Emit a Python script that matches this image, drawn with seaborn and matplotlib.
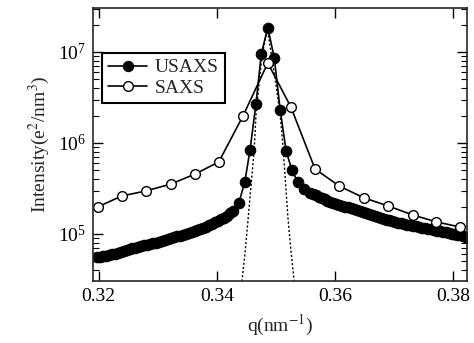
"""
USAXS vs SAXS peak profile, log intensity against q.
"""

import matplotlib
matplotlib.use("Agg")
import matplotlib.pyplot as plt
from matplotlib.lines import Line2D
import pandas as pd
import seaborn as sns

# USAXS scan (filled circles), dense in the tails
q_usaxs = [0.3197, 0.3202, 0.3207, 0.3212, 0.3217, 0.3222, 0.3227, 0.3232,
           0.3237, 0.3242, 0.3247, 0.3252, 0.3257, 0.3262, 0.3267, 0.3272,
           0.3277, 0.3282, 0.3287, 0.3292, 0.3297, 0.3302, 0.3307, 0.3312,
           0.3317, 0.3322, 0.3327, 0.3332, 0.3337, 0.3342, 0.3347, 0.3352,
           0.3357, 0.3362, 0.3367, 0.3372, 0.3377, 0.3382, 0.3387, 0.3392,
           0.3397, 0.3402, 0.3407, 0.3412, 0.3417, 0.3422, 0.3427,
           0.3437, 0.3447, 0.3456, 0.3466, 0.3475, 0.3486, 0.3497, 0.3507,
           0.3517, 0.3527, 0.3537, 0.3547,
           0.3557, 0.3562, 0.3567, 0.3572, 0.3577, 0.3582, 0.3587, 0.3592,
           0.3597, 0.3602, 0.3607, 0.3612, 0.3617, 0.3622, 0.3627, 0.3632,
           0.3637, 0.3642, 0.3647, 0.3652, 0.3657, 0.3662, 0.3667, 0.3672,
           0.3677, 0.3682, 0.3687, 0.3692, 0.3697, 0.3702, 0.3707, 0.3712,
           0.3717, 0.3722, 0.3727, 0.3732, 0.3737, 0.3742, 0.3747, 0.3752,
           0.3757, 0.3762, 0.3767, 0.3772, 0.3777, 0.3782, 0.3787, 0.3792,
           0.3797, 0.3802, 0.3807, 0.3812, 0.3817, 0.3822, 0.3827]
i_usaxs = [5.6e4, 5.65e4, 5.75e4, 5.8e4, 5.9e4, 6.0e4, 6.1e4, 6.25e4,
           6.4e4, 6.55e4, 6.7e4, 6.85e4, 7.0e4, 7.1e4, 7.2e4, 7.35e4,
           7.5e4, 7.65e4, 7.8e4, 7.9e4, 8.0e4, 8.15e4, 8.3e4, 8.55e4,
           8.8e4, 9.0e4, 9.2e4, 9.4e4, 9.6e4, 9.8e4, 1.0e5, 1.02e5,
           1.04e5, 1.07e5, 1.1e5, 1.13e5, 1.16e5, 1.2e5, 1.24e5, 1.29e5,
           1.35e5, 1.4e5, 1.45e5, 1.51e5, 1.58e5, 1.68e5, 1.8e5,
           2.2e5, 3.7e5, 8.4e5, 2.7e6, 9.5e6, 1.85e7, 8.6e6, 2.3e6,
           8.2e5, 5.0e5, 3.7e5, 3.1e5,
           2.85e5, 2.75e5, 2.65e5, 2.56e5, 2.48e5, 2.4e5, 2.32e5, 2.26e5,
           2.2e5, 2.15e5, 2.1e5, 2.05e5, 2.0e5, 1.96e5, 1.92e5, 1.87e5,
           1.83e5, 1.79e5, 1.75e5, 1.7e5, 1.66e5, 1.62e5, 1.58e5, 1.55e5,
           1.51e5, 1.47e5, 1.44e5, 1.41e5, 1.38e5, 1.35e5, 1.33e5, 1.31e5,
           1.29e5, 1.27e5, 1.25e5, 1.23e5, 1.21e5, 1.19e5, 1.17e5, 1.155e5,
           1.14e5, 1.125e5, 1.11e5, 1.09e5, 1.07e5, 1.055e5, 1.04e5, 1.025e5,
           1.01e5, 9.95e4, 9.8e4, 9.65e4, 9.5e4, 9.35e4, 9.2e4]

# SAXS scan (open circles)
q_saxs = [0.3198, 0.3239, 0.3280, 0.3322, 0.3363, 0.3403, 0.3444, 0.3486,
          0.3525, 0.3566, 0.3607, 0.3649, 0.3690, 0.3731, 0.3771, 0.3812]
i_saxs = [1.98e5, 2.62e5, 2.97e5, 3.54e5, 4.56e5, 6.18e5, 1.98e6, 7.57e6,
          2.49e6, 5.18e5, 3.36e5, 2.49e5, 2.03e5, 1.62e5, 1.36e5, 1.19e5]

# dotted profile under the peak
q_dotted = [0.3440, 0.3448, 0.3453, 0.3463, 0.3466, 0.3471, 0.3476, 0.3485,
            0.3493, 0.3500, 0.3507, 0.3512, 0.3520, 0.3525, 0.3533]
i_dotted = [2.2e4, 6.7e4, 1.54e5, 8.4e5, 2.03e6, 4.3e6, 8.6e6, 1.84e7,
            8.6e6, 4.3e6, 2.03e6, 8.8e5, 1.54e5, 6.7e4, 2.2e4]

usaxs = pd.DataFrame({"q": q_usaxs, "I": i_usaxs})
saxs = pd.DataFrame({"q": q_saxs, "I": i_saxs})
dotted = pd.DataFrame({"q": q_dotted, "I": i_dotted})

sns.set_style("ticks")
plt.rcParams["font.family"] = ["Liberation Serif", "DejaVu Serif"]
plt.rcParams["mathtext.fontset"] = "stix"
plt.rcParams["axes.linewidth"] = 1.2

fig = plt.figure(figsize=(4.74, 3.43), dpi=100)
ax = fig.add_axes([0.196, 0.181, 0.789, 0.796])

sns.lineplot(data=dotted, x="q", y="I", ax=ax, color="black",
             linestyle=(0, (1.5, 1.5)), linewidth=1.0, sort=False,
             estimator=None)
sns.lineplot(data=usaxs, x="q", y="I", ax=ax, color="black", linewidth=1.2,
             marker="o", markersize=7.6, markerfacecolor="black",
             markeredgecolor="black", sort=False, estimator=None)
sns.lineplot(data=saxs, x="q", y="I", ax=ax, color="black", linewidth=1.2,
             marker="o", markersize=7, markerfacecolor="white",
             markeredgecolor="black", markeredgewidth=1.0, sort=False,
             estimator=None)

ax.set_yscale("log")
ax.set_xlim(0.319, 0.3823)
ax.set_ylim(3.05e4, 3.05e7)
ax.set_xticks([0.32, 0.34, 0.36, 0.38])
ax.set_xticklabels(["0.32", "0.34", "0.36", "0.38"])
ax.tick_params(which="both", direction="in", top=True, right=True,
               labelsize=14, colors="black")
ax.tick_params(which="major", length=7, width=1.0, pad=5)
ax.tick_params(which="minor", length=4, width=0.8)
ax.tick_params(axis="x", which="minor", bottom=False, top=False)

ax.set_xlabel("q(nm$^{-1}$)", fontsize=14, labelpad=6)
ax.set_ylabel("Intensity(e$^2$/nm$^3$)", fontsize=14, labelpad=4)

handles = [
    Line2D([], [], color="black", linewidth=1.2, marker="o", markersize=7.2,
           markerfacecolor="black", markeredgecolor="black"),
    Line2D([], [], color="black", linewidth=1.2, marker="o", markersize=7,
           markerfacecolor="white", markeredgecolor="black"),
]
leg = ax.legend(handles, ["USAXS", "SAXS"], loc="upper left",
                bbox_to_anchor=(0.025, 0.835), fontsize=14, frameon=True,
                fancybox=False, edgecolor="black", framealpha=1,
                handlelength=2.0, handletextpad=0.4, borderpad=0.3,
                labelspacing=0.15, borderaxespad=0)
leg.get_frame().set_linewidth(1.5)

fig.savefig("out.png", dpi=100)
